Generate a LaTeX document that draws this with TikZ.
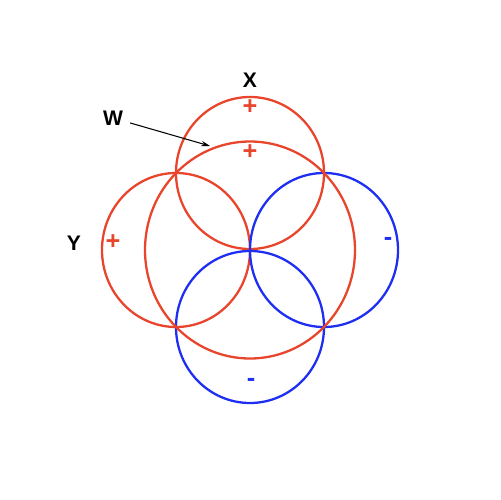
\documentclass[tikz,border=0pt]{standalone}
\usepackage{fontspec}
\setmainfont{Liberation Sans}
\usepackage{tikz}
\usetikzlibrary{arrows}
\usetikzlibrary{arrows.meta}
\definecolor{posred}{HTML}{E8452C}
\definecolor{negblue}{HTML}{1E2EF2}

\begin{document}
\begin{tikzpicture}[x=0.02cm, y=-0.02cm,
				   every node/.style={inner sep=0pt, font=\bfseries\large},
				   posring/.style={posred, line width=1.3pt},
				   negring/.style={negblue, line width=1.3pt},
				   sign/.style={font=\bfseries\Large}]

\useasboundingbox (0,0) rectangle (500,500);

% four small rings and the big one
\draw[posring] (250,173) ellipse (74 and 76);
\draw[posring] (176,250) ellipse (74 and 77);
\draw[negring] (324,250) ellipse (74 and 77);
\draw[negring] (250,327) ellipse (74 and 76);
\draw[posring] (250,250) ellipse (105 and 108.5);

% labels
\node (X) at (250,80) {X};
\node (W) at (113,118) {W};
\node (Y) at (74,243) {Y};
\node[sign, posred] (px) at (250,107) {+};
\node[sign, posred] (pw) at (250,152) {+};
\node[sign, posred] (py) at (113,242) {+};
\node[sign, negblue] (mr) at (388,241) {-};
\node[sign, negblue] (mb) at (251,382) {-};

\coordinate (wtip) at (210,146);
\draw[-{Stealth[length=5pt,width=3pt]}, line width=0.6pt, shorten <=4pt] (W) -- (wtip);

\end{tikzpicture}
\end{document}
